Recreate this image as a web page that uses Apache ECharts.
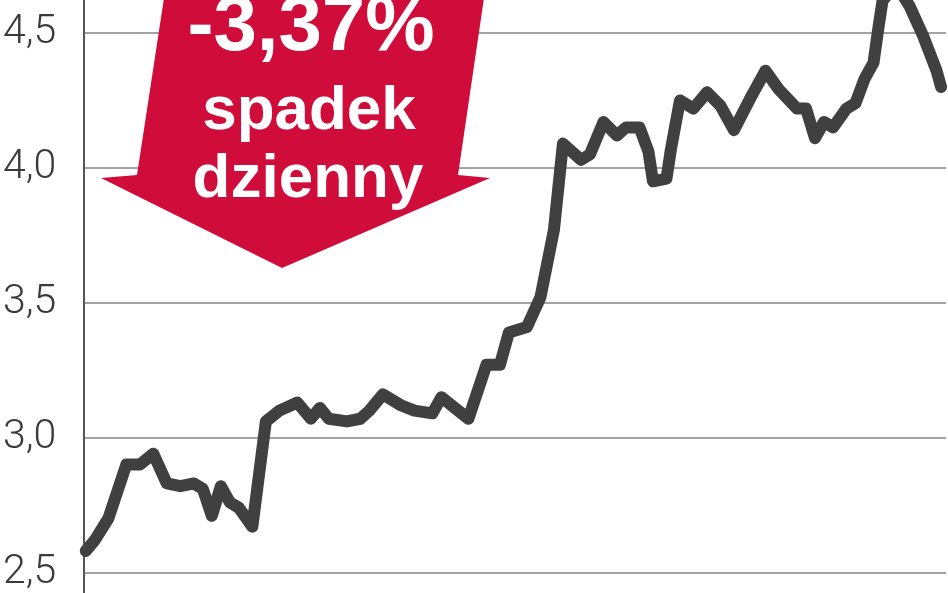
<!DOCTYPE html>
<html>
<head>
<meta charset="utf-8">
<script src="https://cdn.jsdelivr.net/npm/echarts@6/dist/echarts.min.js"></script>
<style>
html,body{margin:0;padding:0;background:#fff;}
#chart{width:948px;height:593px;}
</style>
</head>
<body>
<div id="chart"></div>
<script>
// trading-day index
var days = [0,2,5,9,12,15,18,21,24,26,28,30,32,34,37,40,43,47,50,52,54,58,61,63,66,70,73,77,79,82,85,89,92,94,98,101,104,106,110,112,115,118,120,123,125,126,129,130,132,135,138,141,144,148,151,154,158,160,162,164,166,169,171,173,175,176,177,180,183,186,189,190];
// price (PLN)
var price = [2.58,2.62,2.70,2.90,2.90,2.94,2.83,2.82,2.83,2.81,2.71,2.82,2.76,2.74,2.67,3.06,3.10,3.13,3.07,3.11,3.07,3.06,3.07,3.10,3.16,3.12,3.10,3.09,3.15,3.11,3.07,3.27,3.27,3.39,3.41,3.52,3.77,4.09,4.03,4.05,4.17,4.12,4.15,4.15,4.06,3.95,3.96,4.07,4.25,4.22,4.28,4.23,4.14,4.27,4.36,4.29,4.22,4.22,4.11,4.17,4.15,4.22,4.24,4.33,4.39,4.51,4.62,4.68,4.60,4.49,4.36,4.30];
var yTicks = [2.5, 3.0, 3.5, 4.0, 4.5];
var yTickLabels = ['2,5', '3,0', '3,5', '4,0', '4,5'];
var badgeLines = ['-3,37%', 'spadek', 'dzienny'];

var chart = echarts.init(document.getElementById('chart'));
var seriesData = days.map(function (d, i) { return [d, price[i]]; });

chart.setOption({
  animation: false,
  backgroundColor: '#ffffff',
  grid: [
    { left: 84, right: 2, top: 33, bottom: 17 },
    { left: 84, right: 2, top: 0, bottom: 0 }
  ],
  xAxis: [
    { gridIndex: 0, type: 'value', min: -0.4, max: 191.1, show: false },
    { gridIndex: 1, type: 'value', min: 0, max: 1, show: false }
  ],
  yAxis: [
    {
      gridIndex: 0, type: 'value', min: 2.5, max: 4.5, interval: 0.5,
      axisLine: { show: false },
      axisTick: { show: false },
      splitLine: { show: true, lineStyle: { color: '#a3a3a3', width: 2 } },
      axisLabel: {
        show: true,
        align: 'left',
        margin: 81,
        color: '#3a3a3a',
        fontFamily: 'Roboto',
        fontWeight: 300,
        fontSize: 41,
        formatter: function (v) {
          for (var i = 0; i < yTicks.length; i++) {
            if (Math.abs(yTicks[i] - v) < 1e-6) return yTickLabels[i];
          }
          return '';
        }
      }
    },
    {
      gridIndex: 1, type: 'value', min: 0, max: 1,
      axisLine: { show: true, onZero: false, lineStyle: { color: '#555555', width: 2 } },
      axisTick: { show: false },
      axisLabel: { show: false },
      splitLine: { show: false }
    }
  ],
  series: [{
    type: 'line',
    xAxisIndex: 0,
    yAxisIndex: 0,
    data: seriesData,
    showSymbol: false,
    symbol: 'none',
    clip: false,
    lineStyle: { color: '#404040', width: 12, join: 'round', cap: 'round' },
    z: 5
  }],
  graphic: [
    {
      type: 'polygon',
      z: 10,
      shape: { points: [[164, -2], [484, -2], [458, 175], [490, 178], [282, 268], [101, 178], [137, 175]] },
      style: { fill: '#d00c3b' }
    },
    {
      type: 'text', z: 11, x: 311, y: 67,
      style: { text: badgeLines[0], fill: '#ffffff', font: 'bold 78px "Liberation Sans"', textAlign: 'center', textVerticalAlign: 'bottom' }
    },
    {
      type: 'text', z: 11, x: 309, y: 143,
      style: { text: badgeLines[1], fill: '#ffffff', font: 'bold 62px "Liberation Sans"', textAlign: 'center', textVerticalAlign: 'bottom' }
    },
    {
      type: 'text', z: 11, x: 308, y: 211,
      style: { text: badgeLines[2], fill: '#ffffff', font: 'bold 62px "Liberation Sans"', textAlign: 'center', textVerticalAlign: 'bottom' }
    }
  ]
});
</script>
</body>
</html>
